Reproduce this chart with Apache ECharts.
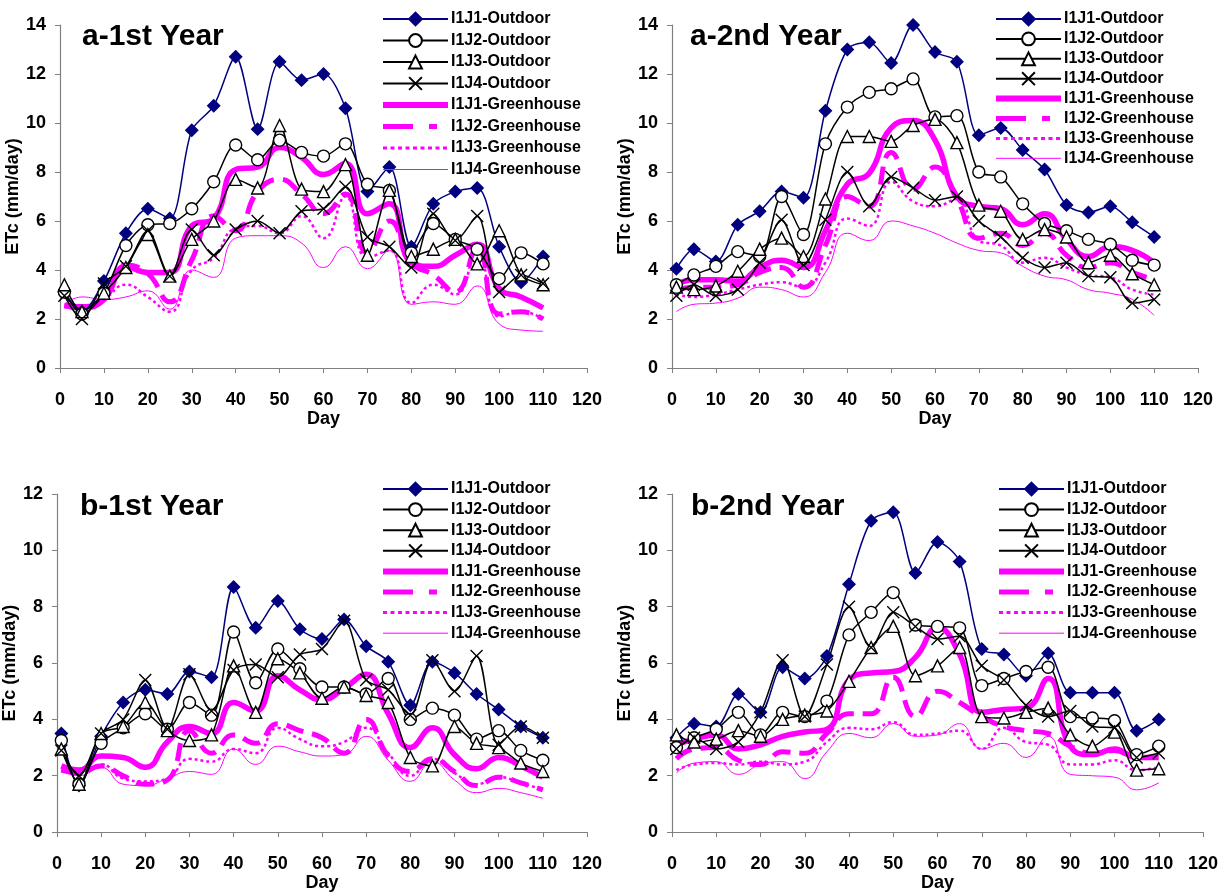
<!DOCTYPE html>
<html><head><meta charset="utf-8">
<script src="https://cdn.jsdelivr.net/npm/echarts@6/dist/echarts.min.js"></script>
<style>html,body{margin:0;padding:0;background:#fff}#c{width:1224px;height:893px}</style>
</head><body><div id="c"></div>
<script>
// ---- data ----
const days = [1,5,10,15,20,25,30,35,40,45,50,55,60,65,70,75,80,85,90,95,100,105,110];
const seriesNames = ['I1J1-Outdoor','I1J2-Outdoor','I1J3-Outdoor','I1J4-Outdoor','I1J1-Greenhouse','I1J2-Greenhouse','I1J3-Greenhouse','I1J4-Greenhouse'];
const panelTitles = ['a-1st Year','a-2nd Year','b-1st Year','b-2nd Year'];
const xTicks = [0,10,20,30,40,50,60,70,80,90,100,110,120];

// a - 1st year
const a1_out1 = [3.1,2.3,3.55,5.5,6.5,6.1,9.7,10.7,12.7,9.75,12.5,11.75,12.0,10.6,7.2,8.2,4.95,6.7,7.2,7.35,4.95,3.5,4.55];
const a1_out2 = [3.1,2.2,3.05,5.0,5.85,5.9,6.5,7.6,9.1,8.5,9.3,8.8,8.65,9.15,7.5,7.25,4.7,5.9,5.25,4.85,3.65,4.7,4.25];
const a1_out3 = [3.4,2.3,3.05,4.1,5.45,3.75,5.25,6.0,7.7,7.35,9.9,7.3,7.2,8.3,4.6,7.25,4.55,4.85,5.25,4.25,5.6,3.8,3.4];
const a1_out4 = [2.95,2.0,3.45,4.15,5.6,3.75,5.65,4.6,5.65,6.0,5.5,6.4,6.5,7.4,5.35,4.95,4.1,6.3,5.2,6.2,3.1,3.8,3.45];
const a1_gh1 = [2.55,2.5,2.8,4.15,3.9,3.9,5.8,6.1,8.1,8.2,9.0,8.6,7.9,8.35,6.3,6.7,4.3,4.15,4.6,5.05,3.25,2.9,2.45];
const a1_gh2 = [2.55,2.45,2.8,4.2,3.85,2.7,4.4,6.2,5.6,7.2,7.7,7.1,6.3,7.1,4.7,6.0,4.3,3.8,3.1,4.9,2.2,2.3,2.0];
const a1_gh3 = [2.5,2.4,2.8,3.4,2.9,2.3,4.0,4.5,5.7,5.8,5.5,6.2,5.3,7.0,4.5,4.8,2.65,3.4,3.0,4.8,2.1,2.3,2.0];
const a1_gh4 = [2.6,2.9,2.8,2.9,3.15,2.4,4.0,3.7,5.3,5.4,5.4,5.1,4.1,4.95,4.05,4.8,2.6,2.7,2.6,3.35,1.8,1.55,1.5];

// a - 2nd year
const a2_out1 = [4.05,4.85,4.35,5.85,6.4,7.2,6.95,10.5,13.0,13.3,12.45,14.0,12.9,12.5,9.5,9.8,8.9,8.1,6.65,6.35,6.6,5.95,5.35];
const a2_out2 = [3.4,3.8,4.15,4.75,4.55,7.0,5.45,9.15,10.65,11.25,11.4,11.8,10.25,10.3,8.0,7.8,6.7,5.9,5.6,5.25,5.05,4.4,4.2];
const a2_out3 = [3.3,3.2,3.35,3.95,4.85,5.3,4.55,6.9,9.45,9.45,9.25,9.9,10.15,9.2,6.65,6.4,5.25,5.65,5.35,4.3,4.6,3.85,3.4];
const a2_out4 = [2.95,3.4,2.95,3.2,4.3,6.05,4.2,6.05,8.0,6.6,7.8,7.35,6.85,7.0,6.0,5.35,4.5,4.1,4.3,3.75,3.7,2.65,2.8];
const a2_gh1 = [3.4,3.6,3.6,3.55,4.1,4.4,4.1,5.6,7.5,7.95,9.8,10.1,9.3,7.0,6.6,6.5,5.85,6.3,5.25,4.55,4.95,4.8,4.3];
const a2_gh2 = [3.2,3.3,3.3,3.4,3.9,4.1,3.3,5.0,7.0,6.6,8.8,7.3,8.2,6.9,5.3,5.5,5.0,5.5,4.6,4.1,4.3,3.9,3.6];
const a2_gh3 = [3.0,2.9,3.0,3.2,3.4,3.5,3.3,4.3,6.1,5.8,7.6,6.8,6.6,6.9,5.2,5.0,4.3,4.5,4.1,3.8,3.7,3.2,3.0];
const a2_gh4 = [2.3,2.6,2.65,2.85,3.3,3.2,2.9,3.9,5.5,5.2,6.0,5.8,5.5,5.1,4.8,4.7,4.15,3.75,3.6,3.2,3.05,2.8,2.15];

// b - 1st year
const b1_out1 = [3.5,1.65,3.4,4.6,5.05,4.9,5.7,5.5,8.7,7.25,8.2,7.2,6.85,7.55,6.6,6.05,4.5,6.05,5.65,4.9,4.35,3.75,3.35];
const b1_out2 = [3.25,1.7,3.15,3.7,4.2,3.65,4.6,4.15,7.1,5.3,6.5,5.8,5.15,5.15,4.9,5.45,4.0,4.4,4.15,3.3,3.6,2.9,2.55];
const b1_out3 = [2.95,1.7,3.5,3.75,4.6,3.6,3.25,3.45,5.9,4.25,6.15,5.65,4.75,5.15,4.85,4.6,2.65,2.35,3.75,3.15,3.0,2.45,2.15];
const b1_out4 = [2.9,2.0,3.5,4.0,5.4,3.65,5.6,4.3,5.75,5.95,5.5,6.3,6.5,7.5,5.4,5.05,4.15,6.1,5.0,6.25,3.1,3.75,3.35];
const b1_gh1 = [2.35,2.2,2.7,2.65,2.3,3.2,3.75,3.5,4.6,4.3,5.55,5.05,4.7,5.1,5.6,4.2,3.0,3.7,2.75,2.25,2.65,2.35,1.95];
const b1_gh2 = [2.2,2.1,2.35,2.0,1.7,1.85,3.6,2.8,3.45,3.15,3.85,3.6,3.35,2.8,4.0,2.7,2.15,2.6,2.15,1.65,1.95,1.75,1.5];
const b1_gh3 = [2.2,2.1,2.4,1.9,1.8,1.9,2.6,2.5,2.95,2.8,3.7,3.3,3.05,3.2,3.7,2.8,2.0,2.6,2.1,1.7,1.95,1.75,1.5];
const b1_gh4 = [2.2,2.0,2.3,1.7,1.65,1.9,2.15,2.05,2.95,2.4,3.05,2.85,2.7,2.75,3.4,2.55,1.8,2.5,1.85,1.4,1.55,1.4,1.2];

// b - 2nd year
const b2_out1 = [3.35,3.85,3.75,4.9,4.25,5.85,5.45,6.25,8.8,11.05,11.35,9.2,10.3,9.6,6.5,6.3,5.55,6.35,4.95,4.95,4.95,3.6,4.0];
const b2_out2 = [3.0,3.35,3.65,4.25,3.45,4.25,4.1,4.65,7.0,7.8,8.5,7.35,7.3,7.25,5.2,5.45,5.7,5.85,4.1,4.05,3.95,2.75,3.05];
const b2_out3 = [3.45,3.2,3.3,3.6,3.4,4.0,4.15,4.3,5.35,6.55,7.3,5.55,5.9,6.55,4.1,4.05,4.25,4.4,3.45,3.05,3.55,2.2,2.25];
const b2_out4 = [2.95,3.35,2.95,3.2,4.25,6.1,4.1,5.95,8.0,6.55,7.8,7.3,6.85,6.95,5.9,5.4,4.5,4.1,4.3,3.75,3.7,2.65,2.8];
const b2_gh1 = [3.1,3.3,3.45,2.95,3.1,3.4,3.55,3.65,5.4,5.65,5.7,6.2,7.25,6.3,4.25,4.35,4.4,5.45,3.05,2.75,2.95,2.65,2.65];
const b2_gh2 = [2.6,2.95,3.0,2.55,2.4,2.85,2.8,3.5,4.2,4.2,5.5,4.1,5.0,4.6,4.1,3.75,3.6,3.5,3.05,2.8,2.9,2.65,2.65];
const b2_gh3 = [2.2,2.4,2.45,2.4,2.5,2.4,2.5,3.2,3.7,3.65,3.9,3.45,3.5,3.6,2.95,3.7,3.2,3.1,2.4,2.4,2.55,2.2,2.3];
const b2_gh4 = [2.1,2.45,2.5,2.05,2.4,2.5,1.9,2.85,3.5,3.35,3.85,3.4,3.45,3.85,2.95,3.15,2.65,3.4,2.05,2.0,1.95,1.5,1.75];

// ---- chart ----
const FONT = 'Liberation Sans, Arial, sans-serif';
const panels = [
  {grid:{left:60,top:25,width:527,height:343}, yMax:14, data:[a1_out1,a1_out2,a1_out3,a1_out4,a1_gh1,a1_gh2,a1_gh3,a1_gh4], title:[82,22], legend:[380,11,5.5]},
  {grid:{left:672,top:25,width:526,height:343}, yMax:14, data:[a2_out1,a2_out2,a2_out3,a2_out4,a2_gh1,a2_gh2,a2_gh3,a2_gh4], title:[690,22], legend:[993,11,3.9]},
  {grid:{left:56,top:494,width:531,height:344}, yMax:12, data:[b1_out1,b1_out2,b1_out3,b1_out4,b1_gh1,b1_gh2,b1_gh3,b1_gh4], title:[80,492], legend:[380,481,4.6]},
  {grid:{left:672,top:494,width:531,height:344}, yMax:12, data:[b2_out1,b2_out2,b2_out3,b2_out4,b2_gh1,b2_gh2,b2_gh3,b2_gh4], title:[691,492], legend:[996,481,4.6]}
];

const styles = [
  {symbol:'diamond', symbolSize:12, color:'#000080', fill:'#000080', width:1.5},
  {symbol:'circle', symbolSize:12, color:'#000', fill:'#fff', width:1.5},
  {symbol:'triangle', symbolSize:12, color:'#000', fill:'#fff', width:1.5},
  {symbol:'path://M0,0L10,10M10,0L0,10', symbolSize:12, color:'#000', fill:'#000', width:1.5},
  {gh:true, width:5.5, type:'solid', legendType:'solid', legendWidth:6},
  {gh:true, width:5, type:[18,9], legendType:[30,16,8,100], legendWidth:5},
  {gh:true, width:2.5, type:[3,3], legendType:[4,3.5], legendWidth:3},
  {gh:true, width:1, type:'solid', legendType:'solid', legendWidth:1}
];

const legendData = seriesNames.map((n, i) => styles[i].gh
  ? {name:n, itemStyle:{opacity:0, borderWidth:0},
     lineStyle:{color:'#ff00ff', width:styles[i].legendWidth, type:styles[i].legendType, opacity:1}}
  : {name:n});

const option = {animation:false, backgroundColor:'#fff', grid:[], xAxis:[], yAxis:[], series:[], legend:[], title:[]};
panels.forEach((p, gi) => {
  option.grid.push(Object.assign({containLabel:false}, p.grid));
  option.xAxis.push({type:'value', gridIndex:gi, min:xTicks[0], max:xTicks[xTicks.length-1], interval:10,
    name:'Day', nameLocation:'middle', nameGap:35,
    nameTextStyle:{fontFamily:FONT, fontWeight:'bold', fontSize:18, color:'#000'},
    axisLine:{onZero:false, lineStyle:{color:'#808080', width:1.2}},
    axisTick:{show:true, inside:false, length:5, lineStyle:{color:'#808080'}},
    axisLabel:{fontFamily:FONT, fontWeight:'bold', fontSize:18, color:'#000', margin:23},
    splitLine:{show:false}});
  option.yAxis.push({type:'value', gridIndex:gi, min:0, max:p.yMax, interval:2,
    name:'ETc (mm/day)', nameLocation:'middle', nameGap:27, nameRotate:90,
    nameTextStyle:{fontFamily:FONT, fontWeight:'bold', fontSize:18, color:'#000'},
    axisLine:{show:true, onZero:false, lineStyle:{color:'#808080', width:1.2}},
    axisTick:{show:true, inside:false, length:5, lineStyle:{color:'#808080'}},
    axisLabel:{fontFamily:FONT, fontWeight:'bold', fontSize:18, color:'#000', margin:14},
    splitLine:{show:false}});
  option.title.push({text:panelTitles[gi], left:p.title[0], top:p.title[1], padding:0,
    textStyle:{fontFamily:FONT, fontWeight:'bold', fontSize:30, color:'#000'}});
  p.data.forEach((arr, si) => {
    const st = styles[si];
    const s = {name:seriesNames[si], type:'line', xAxisIndex:gi, yAxisIndex:gi,
      data: days.map((d,i)=>[d, arr[i]])};
    if (st.gh) {
      Object.assign(s, {symbol:'none', showSymbol:false, smooth:0.5, z:2,
        lineStyle:{color:'#ff00ff', width:st.width, type:st.type},
        itemStyle:{color:'#ff00ff'}});
    } else {
      Object.assign(s, {symbol:st.symbol, symbolSize:st.symbolSize, smooth:0.3, z:3,
        lineStyle:{color:st.color, width:st.width},
        itemStyle:{color:st.fill, borderColor:st.color, borderWidth:1.4, opacity:1}});
    }
    option.series.push(s);
  });
  option.legend.push({orient:'vertical', left:p.legend[0], top:p.legend[1], itemGap:p.legend[2],
    itemWidth:65, itemHeight:16, selectedMode:false, padding:0, data:legendData,
    textStyle:{fontFamily:FONT, fontWeight:'bold', fontSize:16, color:'#000', lineHeight:16, padding:[0,0,0,-2]}});
});

const chart = echarts.init(document.getElementById('c'), null, {renderer:'canvas'});
chart.setOption(option);
</script>
</body></html>
